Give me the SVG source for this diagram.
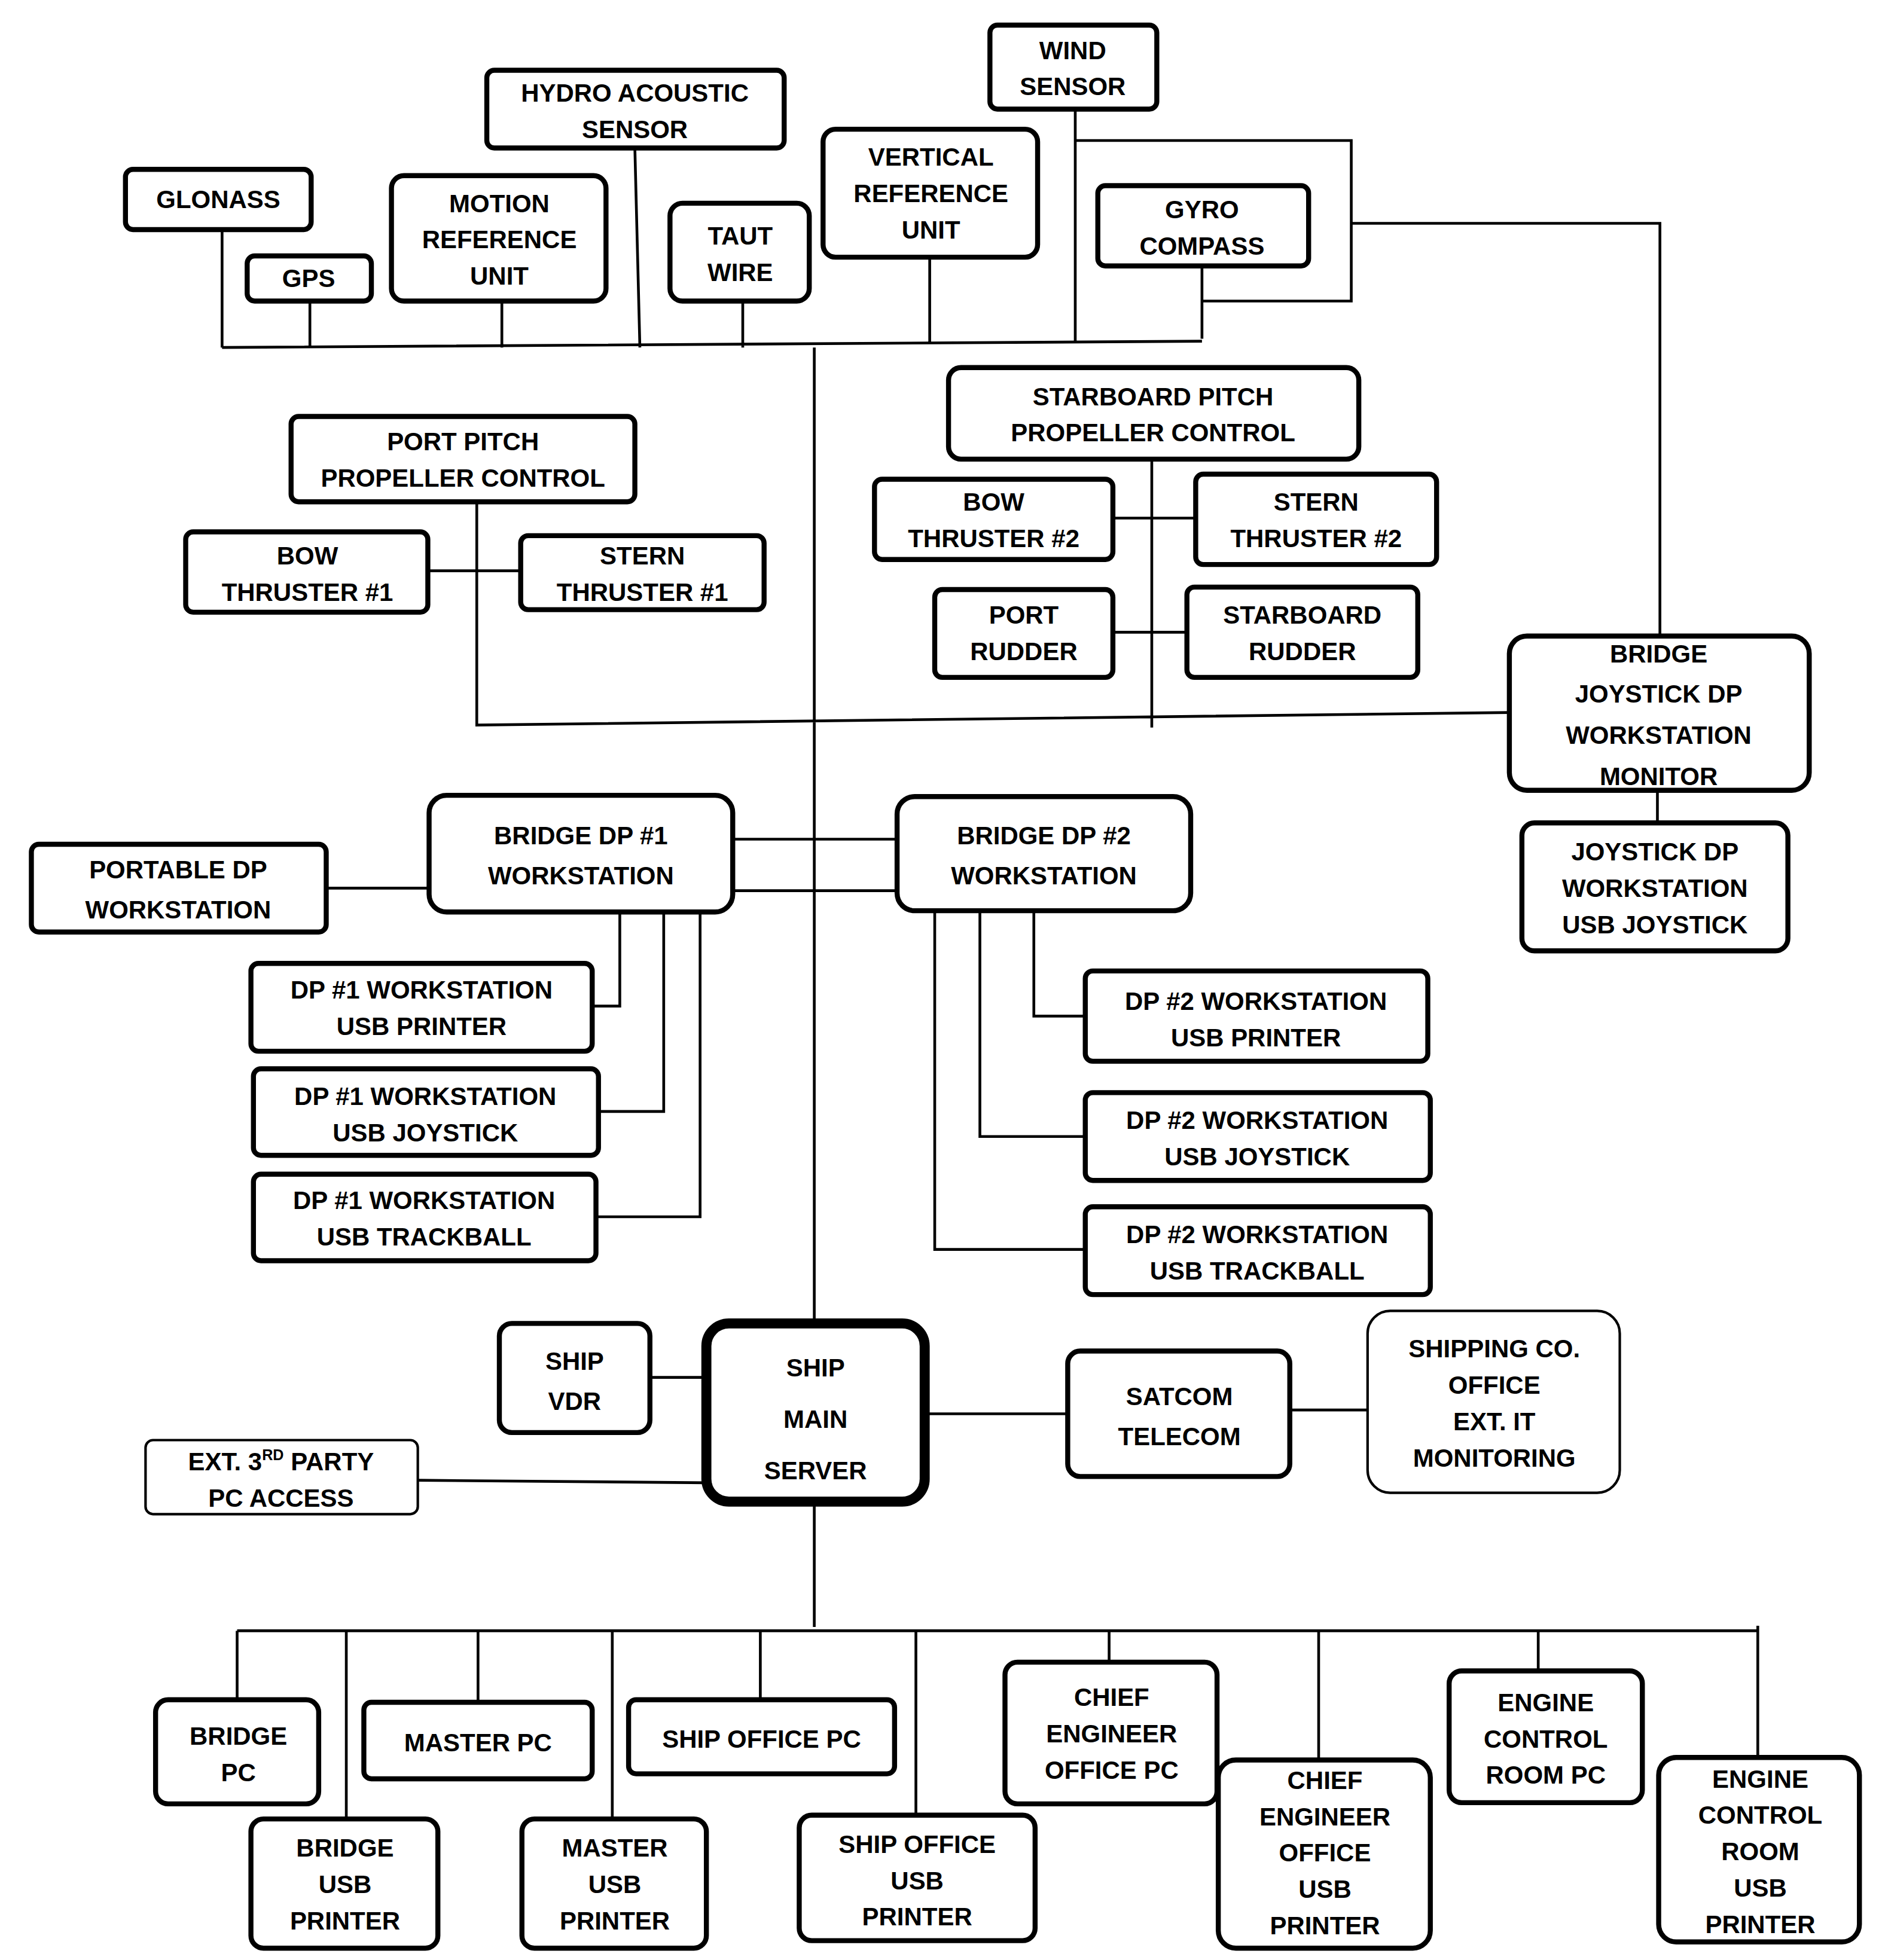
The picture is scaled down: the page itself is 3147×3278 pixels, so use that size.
<svg xmlns="http://www.w3.org/2000/svg" width="3147" height="3278" viewBox="0 0 3147 3278">
<style>
.b{fill:#fff;stroke:#000;stroke-width:4}
.t{fill:#fff;stroke:#000;stroke-width:2}
.s{fill:#fff;stroke:#000;stroke-width:8}
text{font-family:"Liberation Sans",Arial,sans-serif;font-weight:bold;font-size:20px;text-anchor:middle;fill:#000}
.l{fill:none;stroke:#000;stroke-width:2.2}
</style>
<rect width="3147" height="3278" fill="#fff"/>
<g transform="scale(2.098)">
<g id="connectors" class="l">
<path class="l" d="M177,277 L958,272 M177,183V277 M247,240V277 M400,240V277 M506,118 L510,277 M592,240V277 M741,205V273 M857,87V273 M958,212V270 M857,112H1077V240H958 M1077,178H1323V507 M649,277V1055 M380,400V578 L1203,568 M918,366V580 M341,455H415 M887,413H953 M887,504H946 M1321,630V656 M260,708H342 M584,669H715 M584,710H715 M494,727V802H472 M529,727V886H477 M558,727V970H475 M824,726V810H865 M781,726V906H865 M745,722V996H865 M518,1098H563 M333,1180L563,1182 M737,1127H851 M1028,1124H1090 M649,1197V1297 M189,1300H1401 M189,1300V1355 M276,1300V1450 M381,1300V1357 M488,1300V1450 M606,1300V1355 M730,1300V1447 M884,1300V1325 M1051,1300V1403 M1226,1300V1332 M1401,1296V1401"/>
</g>
<g id="glonass"><rect class="b" x="100" y="135" width="148" height="48" rx="6"/><text x="174" y="166">GLONASS</text></g>
<g id="gps"><rect class="b" x="197" y="204" width="99" height="36" rx="6"/><text x="246" y="229">GPS</text></g>
<g id="mru"><rect class="b" x="312" y="140" width="171" height="100" rx="10"/><text x="398" y="169">MOTION<tspan x="398" dy="29">REFERENCE</tspan><tspan x="398" dy="29">UNIT</tspan></text></g>
<g id="hydro"><rect class="b" x="388" y="56" width="237" height="62" rx="6"/><text x="506" y="81">HYDRO ACOUSTIC<tspan x="506" dy="29">SENSOR</tspan></text></g>
<g id="taut"><rect class="b" x="534" y="162" width="111" height="78" rx="10"/><text x="590" y="195">TAUT<tspan x="590" dy="29">WIRE</tspan></text></g>
<g id="vru"><rect class="b" x="656" y="103" width="171" height="102" rx="10"/><text x="742" y="132">VERTICAL<tspan x="742" dy="29">REFERENCE</tspan><tspan x="742" dy="29">UNIT</tspan></text></g>
<g id="wind"><rect class="b" x="789" y="20" width="133" height="67" rx="6"/><text x="855" y="47">WIND<tspan x="855" dy="29">SENSOR</tspan></text></g>
<g id="gyro"><rect class="b" x="875" y="148" width="168" height="64" rx="6"/><text x="958" y="174">GYRO<tspan x="958" dy="29">COMPASS</tspan></text></g>
<g id="portpitch"><rect class="b" x="232" y="332" width="274" height="68" rx="6"/><text x="369" y="359">PORT PITCH<tspan x="369" dy="29">PROPELLER CONTROL</tspan></text></g>
<g id="bow1"><rect class="b" x="148" y="424" width="193" height="64" rx="6"/><text x="245" y="450">BOW<tspan x="245" dy="29">THRUSTER #1</tspan></text></g>
<g id="stern1"><rect class="b" x="415" y="427" width="194" height="59" rx="6"/><text x="512" y="450">STERN<tspan x="512" dy="29">THRUSTER #1</tspan></text></g>
<g id="stbdpitch"><rect class="b" x="756" y="293" width="327" height="73" rx="10"/><text x="919" y="323">STARBOARD PITCH<tspan x="919" dy="29">PROPELLER CONTROL</tspan></text></g>
<g id="bow2"><rect class="b" x="697" y="382" width="190" height="64" rx="6"/><text x="792" y="407">BOW<tspan x="792" dy="29">THRUSTER #2</tspan></text></g>
<g id="stern2"><rect class="b" x="953" y="378" width="192" height="72" rx="6"/><text x="1049" y="407">STERN<tspan x="1049" dy="29">THRUSTER #2</tspan></text></g>
<g id="portrudder"><rect class="b" x="745" y="470" width="142" height="70" rx="6"/><text x="816" y="497">PORT<tspan x="816" dy="29">RUDDER</tspan></text></g>
<g id="stbdrudder"><rect class="b" x="946" y="468" width="184" height="72" rx="6"/><text x="1038" y="497">STARBOARD<tspan x="1038" dy="29">RUDDER</tspan></text></g>
<g id="joymon"><rect class="b" x="1203" y="507" width="239" height="123" rx="14"/><text x="1322" y="528" font-size="23">BRIDGE<tspan x="1322" dy="32">JOYSTICK DP</tspan><tspan x="1322" dy="33">WORKSTATION</tspan><tspan x="1322" dy="33">MONITOR</tspan></text></g>
<g id="joyusb"><rect class="b" x="1213" y="656" width="212" height="102" rx="10"/><text x="1319" y="686">JOYSTICK DP<tspan x="1319" dy="29">WORKSTATION</tspan><tspan x="1319" dy="29">USB JOYSTICK</tspan></text></g>
<g id="portable"><rect class="b" x="25" y="673" width="235" height="70" rx="6"/><text x="142" y="700" font-size="23">PORTABLE DP<tspan x="142" dy="32">WORKSTATION</tspan></text></g>
<g id="dp1"><rect class="b" x="342" y="634" width="242" height="93" rx="14" stroke-width="5"/><text x="463" y="673" font-size="23">BRIDGE DP #1<tspan x="463" dy="32">WORKSTATION</tspan></text></g>
<g id="dp2"><rect class="b" x="715" y="635" width="234" height="91" rx="14" stroke-width="5"/><text x="832" y="673" font-size="23">BRIDGE DP #2<tspan x="832" dy="32">WORKSTATION</tspan></text></g>
<g id="dp1pr"><rect class="b" x="200" y="768" width="272" height="70" rx="6"/><text x="336" y="796">DP #1 WORKSTATION<tspan x="336" dy="29">USB PRINTER</tspan></text></g>
<g id="dp1js"><rect class="b" x="202" y="852" width="275" height="69" rx="6"/><text x="339" y="881">DP #1 WORKSTATION<tspan x="339" dy="29">USB JOYSTICK</tspan></text></g>
<g id="dp1tb"><rect class="b" x="202" y="936" width="273" height="69" rx="6"/><text x="338" y="964">DP #1 WORKSTATION<tspan x="338" dy="29">USB TRACKBALL</tspan></text></g>
<g id="dp2pr"><rect class="b" x="865" y="774" width="273" height="72" rx="6"/><text x="1001" y="805">DP #2 WORKSTATION<tspan x="1001" dy="29">USB PRINTER</tspan></text></g>
<g id="dp2js"><rect class="b" x="865" y="871" width="275" height="70" rx="6"/><text x="1002" y="900">DP #2 WORKSTATION<tspan x="1002" dy="29">USB JOYSTICK</tspan></text></g>
<g id="dp2tb"><rect class="b" x="865" y="962" width="275" height="70" rx="6"/><text x="1002" y="991">DP #2 WORKSTATION<tspan x="1002" dy="29">USB TRACKBALL</tspan></text></g>
<g id="vdr"><rect class="b" x="398" y="1055" width="120" height="87" rx="10"/><text x="458" y="1092" font-size="22">SHIP<tspan x="458" dy="32">VDR</tspan></text></g>
<g id="server"><rect class="s" x="563" y="1055" width="174" height="142" rx="18"/><text x="650" y="1097" font-size="28">SHIP<tspan x="650" dy="41">MAIN</tspan><tspan x="650" dy="41">SERVER</tspan></text></g>
<g id="ext"><rect class="t" x="116" y="1148" width="217" height="59" rx="6"/><text x="224" y="1172">EXT. 3<tspan font-size="12" dy="-8">RD</tspan><tspan dy="8"> PARTY</tspan><tspan x="224" dy="29">PC ACCESS</tspan></text></g>
<g id="satcom"><rect class="b" x="851" y="1077" width="177" height="100" rx="10"/><text x="940" y="1120" font-size="22">SATCOM<tspan x="940" dy="32">TELECOM</tspan></text></g>
<g id="shipping"><rect class="t" x="1090" y="1045" width="201" height="145" rx="18"/><text x="1191" y="1082">SHIPPING CO.<tspan x="1191" dy="29">OFFICE</tspan><tspan x="1191" dy="29">EXT. IT</tspan><tspan x="1191" dy="29">MONITORING</tspan></text></g>
<g id="bridgepc"><rect class="b" x="124" y="1355" width="130" height="83" rx="10"/><text x="190" y="1391">BRIDGE<tspan x="190" dy="29">PC</tspan></text></g>
<g id="masterpc"><rect class="b" x="290" y="1357" width="182" height="61" rx="6"/><text x="381" y="1396">MASTER PC</text></g>
<g id="officepc"><rect class="b" x="501" y="1355" width="212" height="59" rx="6"/><text x="607" y="1393">SHIP OFFICE PC</text></g>
<g id="chiefpc"><rect class="b" x="801" y="1325" width="169" height="113" rx="10"/><text x="886" y="1360">CHIEF<tspan x="886" dy="29">ENGINEER</tspan><tspan x="886" dy="29">OFFICE PC</tspan></text></g>
<g id="ecrpc"><rect class="b" x="1155" y="1332" width="154" height="105" rx="10"/><text x="1232" y="1364">ENGINE<tspan x="1232" dy="29">CONTROL</tspan><tspan x="1232" dy="29">ROOM PC</tspan></text></g>
<g id="bridgepr"><rect class="b" x="200" y="1450" width="149" height="103" rx="10"/><text x="275" y="1480">BRIDGE<tspan x="275" dy="29">USB</tspan><tspan x="275" dy="29">PRINTER</tspan></text></g>
<g id="masterpr"><rect class="b" x="416" y="1450" width="147" height="103" rx="10"/><text x="490" y="1480">MASTER<tspan x="490" dy="29">USB</tspan><tspan x="490" dy="29">PRINTER</tspan></text></g>
<g id="officepr"><rect class="b" x="637" y="1447" width="188" height="100" rx="10"/><text x="731" y="1477">SHIP OFFICE<tspan x="731" dy="29">USB</tspan><tspan x="731" dy="29">PRINTER</tspan></text></g>
<g id="chiefpr"><rect class="b" x="971" y="1403" width="169" height="150" rx="14"/><text x="1056" y="1426">CHIEF<tspan x="1056" dy="29">ENGINEER</tspan><tspan x="1056" dy="29">OFFICE</tspan><tspan x="1056" dy="29">USB</tspan><tspan x="1056" dy="29">PRINTER</tspan></text></g>
<g id="ecrpr"><rect class="b" x="1322" y="1401" width="160" height="147" rx="14"/><text x="1403" y="1425">ENGINE<tspan x="1403" dy="29">CONTROL</tspan><tspan x="1403" dy="29">ROOM</tspan><tspan x="1403" dy="29">USB</tspan><tspan x="1403" dy="29">PRINTER</tspan></text></g>
</g>
</svg>
